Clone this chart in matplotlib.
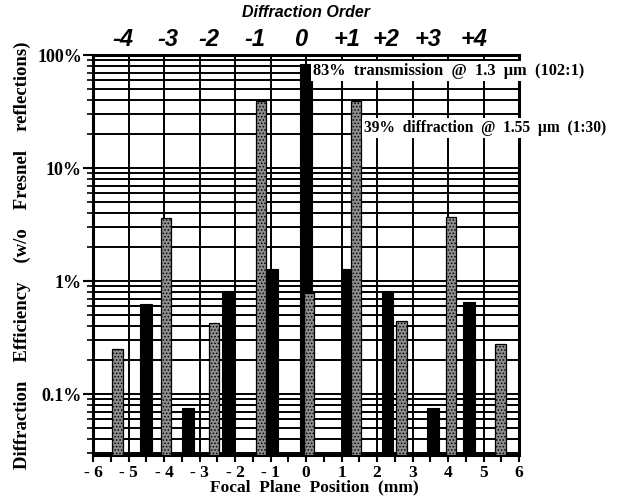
import numpy as np
import matplotlib.pyplot as plt
from matplotlib.ticker import FixedLocator, LogLocator, NullFormatter

# 1.3 um beam (black bars): focal plane position (mm) and efficiency (%)
pos_13 = [-4.51, -3.32, -2.20, -0.96, 0.00, 1.18, 2.29, 3.58, 4.59]
eff_13 = [0.63, 0.076, 0.82, 1.28, 83.0, 1.28, 0.82, 0.076, 0.65]

# 1.55 um beam (stippled grey bars)
pos_155 = [-5.31, -3.95, -2.59, -1.27, 0.08, 1.41, 2.69, 4.08, 5.48]
eff_155 = [0.25, 3.6, 0.43, 39.0, 0.79, 39.0, 0.44, 3.7, 0.28]

# diffraction order labels along the top
orders = ['-4', '-3', '-2', '-1', '0', '+1', '+2', '+3', '+4']
order_pos = [-5.17, -3.90, -2.74, -1.44, -0.14, 1.16, 2.24, 3.45, 4.72]

x_ticks = list(range(-6, 7))
y_ticks = [0.1, 1, 10, 100]
y_ticklabels = ['0.1%', '1%', '10%', '100%']

serif = 'Liberation Serif'
sans = 'Liberation Sans'
plt.rcParams['hatch.color'] = '#2e2e2e'
plt.rcParams['hatch.linewidth'] = 0.7

ybot = 0.029

fig = plt.figure(figsize=(6.26, 5.0), dpi=100)
ax = fig.add_axes([0.1486, 0.09, 0.6805, 0.80])

ax.set_yscale('log')
ax.set_xlim(-6, 6)
ax.set_ylim(ybot, 100)

# grid: vertical at integer mm, horizontal at every log step
for xv in range(-5, 6):
    ax.axvline(xv, color='black', lw=1.4, zorder=1)
for dec in [0.01, 0.1, 1, 10]:
    for m in range(1, 10):
        yv = dec * m
        if ybot < yv < 100:
            ax.axhline(yv, color='black', lw=1.4, zorder=1)

ax.bar(pos_13, [e - ybot for e in eff_13], width=0.32, bottom=ybot,
       color='black', edgecolor='black', lw=0.8, zorder=3)
ax.bar(pos_155, [e - ybot for e in eff_155], width=0.29, bottom=ybot,
       color='#8e8e8e', hatch='.....', edgecolor='black', lw=0.9, zorder=4)

# ticks
ax.xaxis.set_major_locator(FixedLocator(x_ticks))
ax.xaxis.set_minor_locator(FixedLocator(np.arange(-5.5, 6, 1.0)))
ax.set_xticklabels(['- %d' % abs(v) if v < 0 else str(v) for v in x_ticks],
                   fontfamily=serif, fontweight='bold', fontsize=12.5)
ax.tick_params(axis='x', which='both', direction='out', length=5, width=1.5, pad=2)

ax.yaxis.set_major_locator(FixedLocator(y_ticks))
ax.yaxis.set_minor_locator(LogLocator(base=10, subs=np.arange(2, 10)))
ax.yaxis.set_minor_formatter(NullFormatter())
ax.set_yticklabels(y_ticklabels, fontfamily=serif, fontweight='bold', fontsize=13)
ax.tick_params(axis='y', which='major', direction='out', length=7, width=1.5, pad=1)
ax.tick_params(axis='y', which='minor', direction='out', length=4, width=1.2)

for s in ax.spines.values():
    s.set_linewidth(2.2)

ax.set_xlabel('Focal  Plane  Position  (mm)', fontfamily=serif,
              fontweight='bold', fontsize=12.5)
ax.xaxis.set_label_coords(0.52, -0.062)
ax.set_ylabel('Diffraction    Efficiency    (w/o    Fresnel    reflections)',
              fontfamily=serif, fontweight='bold', fontsize=13.5, labelpad=4)

# top axis: diffraction orders
for lab, xp in zip(orders, order_pos):
    ax.text(xp, 1.04, lab, transform=ax.get_xaxis_transform(), ha='center',
            va='center', fontfamily=sans, fontweight='bold', fontstyle='italic',
            fontsize=17)
ax.text(0.0, 1.107, 'Diffraction Order', transform=ax.get_xaxis_transform(),
        ha='center', va='center', fontfamily=sans, fontweight='bold',
        fontstyle='italic', fontsize=11.5)

# annotations
ax.text(0.2, 72, '83%  transmission  @  1.3  \u00b5m  (102:1)', fontfamily=serif,
        fontweight='bold', fontsize=11.8, ha='left', va='center', zorder=6,
        clip_on=False, bbox=dict(facecolor='white', edgecolor='none', pad=1.5))
ax.text(1.62, 22.5, '39%  diffraction  @  1.55  \u00b5m  (1:30)', fontfamily=serif,
        fontweight='bold', fontsize=11.2, ha='left', va='center', zorder=6,
        clip_on=False, bbox=dict(facecolor='white', edgecolor='none', pad=1.5))

plt.savefig('out.png', dpi=100)
